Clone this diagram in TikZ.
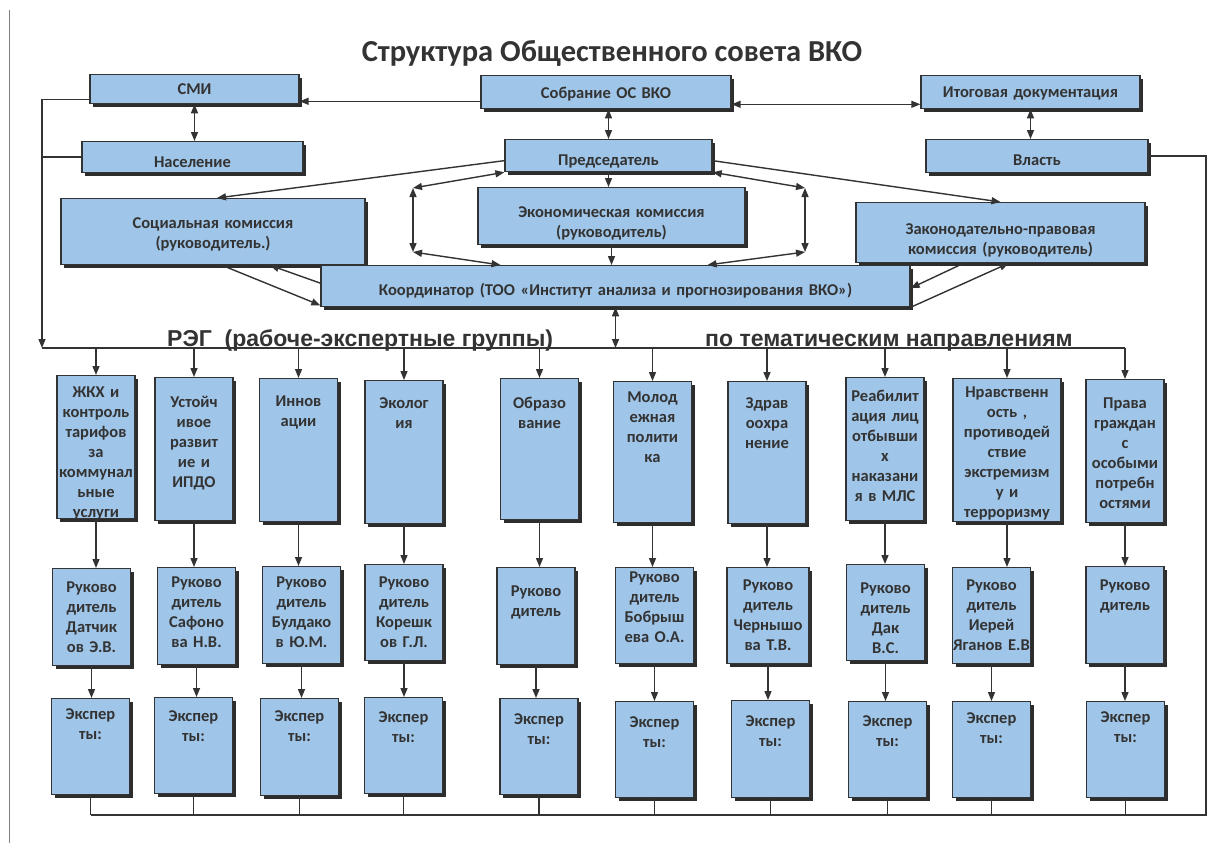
\documentclass[tikz,border=0pt]{standalone}
\usepackage{fontspec}
\setmainfont{Carlito}
\newfontfamily\headfont{Liberation Sans}
\usetikzlibrary{arrows.meta,shadows}

\definecolor{boxfill}{RGB}{159,197,232}
\definecolor{boxline}{RGB}{51,51,51}
\definecolor{shade}{RGB}{45,45,45}
\definecolor{txt}{RGB}{51,51,51}

\tikzset{
    box/.style={draw=boxline, line width=1.3pt, fill=boxfill, text=txt,
        font=\bfseries\fontsize{16.5}{20}\selectfont, align=center, inner sep=0pt, anchor=north,
        drop shadow={shadow xshift=3pt, shadow yshift=-3pt, fill=shade, opacity=1}},
    topic/.style={box, text width=78pt},
    lead/.style={box, text width=78pt, text height=23pt, text depth=74pt},
    expert/.style={box, text width=78pt, text height=24pt, text depth=72pt},
    link/.style={draw=boxline, line width=1.4pt},
    arr/.style={link, -{Triangle[length=9pt,width=7pt]}},
    darr/.style={link, {Triangle[length=9pt,width=7pt]}-{Triangle[length=9pt,width=7pt]}},
    head/.style={font=\headfont\bfseries\fontsize{23}{26}\selectfont, text=txt, inner sep=0pt, anchor=base west}
}

\begin{document}
\begin{tikzpicture}[x=1pt, y=-1pt]
    \useasboundingbox[fill=white] (0,0) rectangle (1222,843);
    \draw[gray, line width=0.8pt] (9,10) -- (9,843);

    \node[font=\bfseries\fontsize{30.5}{36}\selectfont, text=txt, anchor=base, inner sep=0pt] (title) at (612,61) {Структура Общественного совета ВКО};

    % top level
    \node[box, text width=209pt, text height=20pt, text depth=9pt] (smi) at (194.5,74) {СМИ};
    \node[box, text width=221pt, text height=26pt, text depth=5pt] (nasel) at (192.5,141) {Население};
    \node[box, text width=250pt, text height=23pt, text depth=10pt] (sobr) at (606,75) {Собрание ОС ВКО};
    \node[box, text width=207pt, text height=26pt, text depth=6pt] (pred) at (608.5,139) {Председатель};
    \node[box, text width=219pt, text height=22pt, text depth=11pt] (itog) at (1030.5,75) {Итоговая документация};
    \node[box, text width=222pt, text height=26pt, text depth=7pt] (vlast) at (1037,139) {Власть};
    \node[box, text width=304pt, text height=30pt, text depth=36pt] (soc) at (213,198) {Социальная комиссия\\(руководитель.)};
    \node[box, text width=267pt, text height=30pt, text depth=27pt] (econ) at (611.5,187) {Экономическая комиссия\\(руководитель)};
    \node[box, text width=289pt, text height=32pt, text depth=28pt] (zak) at (1000.5,202) {Законодательно-правовая\\комиссия (руководитель)};
    \node[box, text width=589pt, text height=30pt, text depth=11pt] (koord) at (615.5,265) {Координатор (ТОО «Институт анализа и прогнозирования ВКО»)};

    \node[head] (reg) at (167,346) {РЭГ~~(рабоче-экспертные группы)};
    \node[head] (tema) at (705,346) {по тематическим направлениям};

    % working groups
    \node[topic, text height=22pt, text depth=121pt] (t1) at (96,375) {ЖКХ и\\контроль\\тарифов\\за\\коммунал\\ьные\\услуги};
    \node[topic, text height=30pt, text depth=113pt] (t2) at (194,377) {Устойч\\ивое\\развит\\ие и\\ИПДО};
    \node[topic, text height=28pt, text depth=115pt] (t3) at (298.5,378) {Иннов\\ации};
    \node[topic, text height=28pt, text depth=115pt] (t4) at (404,380) {Эколог\\ия};
    \node[topic, text height=30pt, text depth=111pt] (t5) at (539.5,378) {Образо\\вание};
    \node[topic, text height=21pt, text depth=120pt] (t6) at (652.5,381) {Молод\\ежная\\полити\\ка};
    \node[topic, text height=27pt, text depth=115pt] (t7) at (767,381) {Здрав\\оохра\\нение};
    \node[topic, text height=24pt, text depth=119pt] (t8) at (885,377) {Реабилит\\ация лиц\\отбывши\\х\\наказани\\я в МЛС};
    \node[topic, text width=108pt, text height=19pt, text depth=124pt] (t9) at (1007,378) {Нравственн\\ость ,\\противодей\\ствие\\экстремизм\\у и\\терроризму};
    \node[topic, text height=29pt, text depth=114pt] (t10) at (1125,379) {Права\\граждан\\с\\особыми\\потребн\\остями};

    % heads of groups
    \node[lead, text height=24pt, text depth=73pt] (l1) at (91.5,568) {Руково\\дитель\\Датчик\\ов Э.В.};
    \node[lead, text height=20pt, text depth=77pt] (l2) at (196.5,567) {Руково\\дитель\\Сафоно\\ва Н.В.};
    \node[lead, text height=21pt, text depth=76pt] (l3) at (301.5,566) {Руково\\дитель\\Булдако\\в Ю.М.};
    \node[lead, text depth=73pt] (l4) at (404,564) {Руково\\дитель\\Корешк\\ов Г.Л.};
    \node[lead, text height=29pt, text depth=68pt] (l5) at (536,567) {Руково\\дитель};
    \node[lead, text height=15pt, text depth=81pt] (l6) at (654.5,567) {Руково\\дитель\\Бобрыш\\ева О.А.};
    \node[lead, text width=82pt, text depth=73pt] (l7) at (768,567) {Руково\\дитель\\Чернышо\\ва Т.В.};
    \node[lead, text height=29pt, text depth=67pt] (l8) at (885.5,564) {Руково\\дитель\\Дак\\В.С.};
    \node[lead, text depth=73pt] (l9) at (991.5,567) {Руково\\дитель\\Иерей\\Яганов Е.В};
    \node[lead, text height=24pt, text depth=73pt] (l10) at (1125,566) {Руково\\дитель};

    % experts
    \node[expert, text height=21pt, text depth=75pt] (e1) at (90.5,698) {Экспер\\ты:};
    \node[expert] (e2) at (193.5,697) {Экспер\\ты:};
    \node[expert, text height=23pt, text depth=74pt] (e3) at (299.5,698) {Экспер\\ты:};
    \node[expert, text height=25pt, text depth=71pt] (e4) at (403.5,697) {Экспер\\ты:};
    \node[expert, text height=26pt, text depth=70pt] (e5) at (539,698) {Экспер\\ты:};
    \node[expert, text height=26pt, text depth=70pt] (e6) at (654.5,701) {Экспер\\ты:};
    \node[expert, text height=26pt, text depth=71pt] (e7) at (770.5,700) {Экспер\\ты:};
    \node[expert, text height=25pt, text depth=71pt] (e8) at (887.5,701) {Экспер\\ты:};
    \node[expert, text height=22pt, text depth=74pt] (e9) at (991.5,701) {Экспер\\ты:};
    \node[expert, text height=21pt, text depth=75pt] (e10) at (1125.5,701) {Экспер\\ты:};

    \coordinate (bus) at (0,348);
    \coordinate (bot) at (0,815);
    \coordinate (lft) at (42,0);
    \coordinate (rgt) at (1206,0);
    \coordinate (lb1) at (413,188);
    \coordinate (lb2) at (413,252);
    \coordinate (rb1) at (805,188);
    \coordinate (rb2) at (805,252);

    % top connectors
    \draw[arr] ([yshift=8pt]sobr.south west) -- ([yshift=8pt]sobr.south west -| smi.east);
    \draw[darr] ([yshift=5pt]sobr.south east) -- ([yshift=5pt]sobr.south east -| itog.west);
    \draw[darr] (smi.south) -- (smi.south |- nasel.north);
    \draw[darr] (pred.north) -- (pred.north |- sobr.south);
    \draw[darr] (itog.south) -- (itog.south |- vlast.north);
    \draw[arr] (pred.south) -- (pred.south |- econ.north);
    \draw[arr] (econ.south) -- (econ.south |- koord.north);
    \draw[arr] ([yshift=-5pt]pred.west) -- ([xshift=4pt]soc.north);
    \draw[arr] ([yshift=-5pt]pred.east) -- (zak.north);
    \draw[darr] (lb1) -- (pred.south west);
    \draw[darr] (lb1) -- (lb2);
    \draw[darr] (lb2) -- ([xshift=-115pt]koord.north);
    \draw[darr] (pred.south east) -- (rb1);
    \draw[darr] (rb1) -- (rb2);
    \draw[darr] (rb2) -- ([xshift=92pt]koord.north);
    \draw[arr] ([xshift=9pt]soc.south) -- ([yshift=2pt]koord.south west);
    \draw[arr] ([yshift=3pt]koord.west) -- ([xshift=57pt]soc.south);
    \draw[arr] ([xshift=-37pt]zak.south) -- ([yshift=-2pt]koord.east);
    \draw[arr] (koord.south east) -- ([xshift=8pt]zak.south);
    \draw[darr] (koord.south) -- (koord.south |- bus);

    % left and right loops
    \draw[arr] ([yshift=5pt]smi.south west) -| (lft |- bus);
    \draw[link] (nasel.west) -- (nasel.west -| lft);
    \draw[link] (lft |- bus) -- (t10.north |- bus);
    \draw[link] (vlast.east) -| (rgt |- bot) -- (e1.south |- bot);

    \foreach \i in {1,...,10}{
        \draw[arr] (t\i.north |- bus) -- (t\i.north);
        \draw[arr] (t\i.south) -- (t\i.south |- l\i.north);
        \draw[arr] (l\i.south) -- (l\i.south |- e\i.north);
        \draw[link] (e\i.south) -- (e\i.south |- bot);
    }
\end{tikzpicture}
\end{document}
